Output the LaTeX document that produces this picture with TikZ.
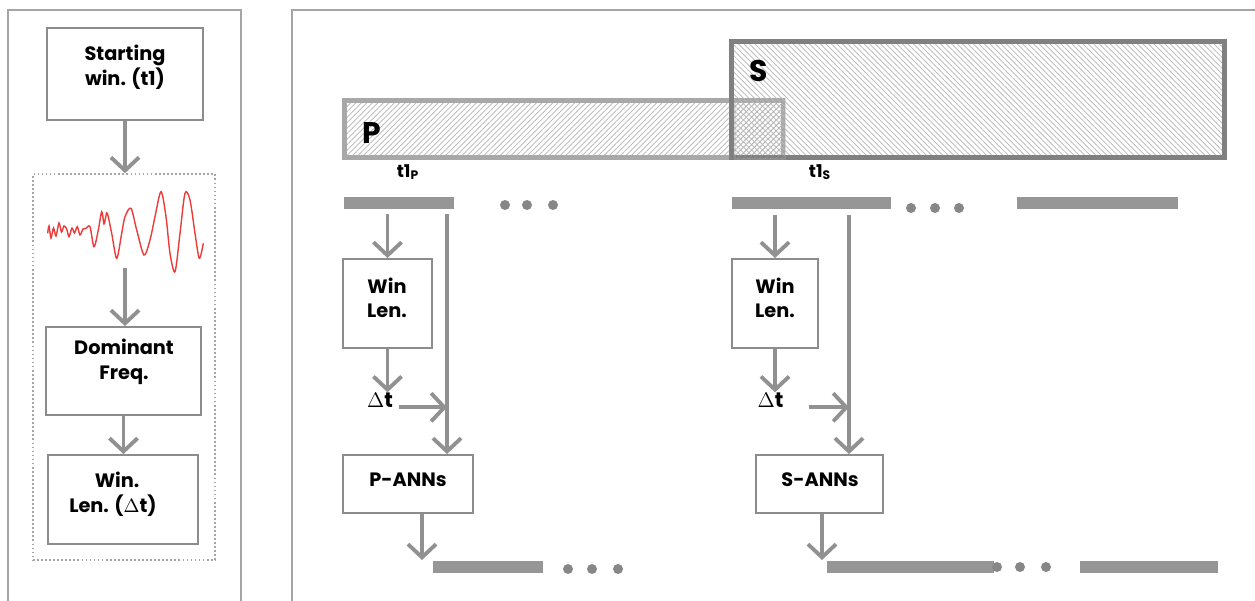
\documentclass[tikz,border=0pt]{standalone}
\usepackage{fontspec}
\setsansfont{Poppins}
\usetikzlibrary{arrows.meta, positioning, patterns.meta, calc}

\definecolor{framegray}{RGB}{165,165,165}
\definecolor{boxgray}{RGB}{140,140,140}
\definecolor{arrgray}{RGB}{145,145,145}
\definecolor{bargray}{RGB}{150,150,150}
\definecolor{dotgray}{RGB}{135,135,135}
\definecolor{pgray}{RGB}{168,168,168}
\definecolor{sgray}{RGB}{128,128,128}
\definecolor{hatchgray}{RGB}{190,190,190}
\definecolor{wavered}{RGB}{235,60,60}

\tikzset{
  box/.style={shape=rectangle, draw=boxgray, line width=1.1pt, inner sep=0pt},
  lbl/.style={font=\sffamily\bfseries\fontsize{11}{14}\selectfont, align=center, inner sep=0pt},
  bar/.style={shape=rectangle, fill=bargray, inner sep=0pt, minimum height=0.24cm},
  dot/.style={shape=circle, fill=dotgray, inner sep=0pt, minimum size=0.2cm},
  arr/.style={draw=arrgray, line width=2.2pt, -{Straight Barb[length=7.5pt,width=16pt]}},
}

\begin{document}
\begin{tikzpicture}[x=0.02cm, y=-0.02cm]
\useasboundingbox (0,0) rectangle (1255,601);

%frames
\draw[framegray, line width=1pt] (8,601) -- (8,10) -- (241,10) -- (241,601);
\draw[framegray, line width=1pt] (292,601) -- (292,10) -- (1255,10);

%left column
\draw (125,74) node [box, minimum width=3.12cm, minimum height=1.84cm] (start) {};
\draw (125,67) node [lbl] (startTxt) {Starting\\win. (t1)};
\draw (124,367) node [box, draw=framegray, line width=1pt, dash pattern=on 1pt off 1.3pt, minimum width=3.64cm, minimum height=7.72cm] (sigbox) {};
\draw[wavered, line width=0.8pt, smooth, tension=0.5] plot coordinates {
  (47.7,233.3) (49,226) (51,238) (53.5,228) (56,236) (59,223) (61.5,232) (64,226) (66.7,229)
  (69,236.7) (72,228) (74.5,233) (77.3,226.7) (80,235) (83,229) (86,228.3) (90,226.7) (94,246.7)
  (98.3,230) (101.7,211.7) (104,224) (105.5,218) (107.3,213.3) (111.7,233.3) (116.7,258.3)
  (121.7,233.3) (125,216.7) (131,208.3) (136.7,230) (144,255) (150,240) (155,216.7)
  (161,191.7) (166,216.7) (170,253.3) (175,271.7) (180,233.3) (185,193.3) (190,200)
  (195,233.3) (199.3,258.3) (203.3,243.3)};
\coordinate (waveEnd) at (125,268);
\draw (123.5,371) node [box, minimum width=3.1cm, minimum height=1.76cm] (dom) {};
\draw (124,362) node [lbl] (domTxt) {Dominant\\Freq.};
\draw (123,499.5) node [box, minimum width=3cm, minimum height=1.78cm] (winlen) {};
\draw (113,494) node [lbl] (winlenTxt) {\ \ Win.\\Len. ({$\Delta$}t)};

\draw[arr] (start.south) -- (start.south |- sigbox.north);
\draw[arr] (waveEnd) -- (waveEnd |- dom.north);
\draw[arr] (dom.south) -- (dom.south |- winlen.north);

%phase windows
\draw[pgray, line width=2.8pt, pattern={Lines[angle=45,distance=2.2pt,line width=0.5pt]}, pattern color=hatchgray] (344.5,100.5) rectangle (783,157.5);
\draw[sgray, line width=2.8pt, pattern={Lines[angle=-45,distance=2.2pt,line width=0.5pt]}, pattern color=hatchgray] (731.5,41.5) rectangle (1224.5,157.5);
\draw[pgray, opacity=0.35, line width=1pt, pattern={Lines[angle=45,distance=2.2pt,line width=0.5pt]}, pattern color=pgray] (735,99) rectangle (785,159);
\draw (372,133) node [lbl, font=\sffamily\bfseries\fontsize{17}{20}\selectfont] (pLbl) {P};
\draw (759,71) node [lbl, font=\sffamily\bfseries\fontsize{17}{20}\selectfont] (sLbl) {S};
\draw (408,172) node [lbl, font=\sffamily\bfseries\fontsize{10}{12}\selectfont] (t1p) {t1\textsubscript{P}};
\draw (820,172) node [lbl, font=\sffamily\bfseries\fontsize{10}{12}\selectfont] (t1s) {t1\textsubscript{S}};

%bars and dots
\draw (399,203) node [bar, minimum width=2.2cm] (barP1) {};
\draw (488,567) node [bar, minimum width=2.2cm] (barP2) {};
\draw (811.5,203.5) node [bar, minimum width=3.18cm] (barS1) {};
\draw (1097.5,203.5) node [bar, minimum width=3.22cm] (barS2) {};
\draw (910.5,567) node [bar, minimum width=3.34cm] (barS3) {};
\draw (1149,567) node [bar, minimum width=2.76cm] (barS4) {};
\foreach \x [count=\i] in {505,527,553} \draw (\x,205) node [dot] (dotP\i) {};
\foreach \x [count=\i] in {911,935,959} \draw (\x,208) node [dot] (dotS\i) {};
\foreach \x [count=\i] in {568,592,618} \draw (\x,569) node [dot] (dotPb\i) {};
\foreach \x [count=\i] in {997,1020,1046} \draw (\x,567) node [dot] (dotSb\i) {};

%P branch
\draw (387.5,303.5) node [box, minimum width=1.78cm, minimum height=1.78cm] (winP) {};
\draw (387,298) node [lbl] (winPTxt) {Win\\Len.};
\draw (380,400) node [lbl, font=\sffamily\bfseries\fontsize{12}{14}\selectfont] (dtP) {{$\Delta$}t};
\draw (408,484) node [box, minimum width=2.6cm, minimum height=1.16cm] (pann) {};
\draw (408,480) node [lbl] (pannTxt) {P-ANNs};
\coordinate (pIn) at (447,215);
\coordinate (pOut) at (422,560);
\draw[arr, shorten <=0.1cm] (barP1.south -| winP.north) -- (winP.north);
\draw[arr, shorten <=0.1cm] (barP1.south -| pIn) -- (pIn |- pann.north);
\draw[arr] (winP.south) -- (winP.south |- dtP.north);
\draw[arr, shorten <=0.12cm] (dtP.base east) -- (dtP.base east -| pIn);
\draw[arr] (pann.south -| pOut) -- (pOut);

%S branch
\draw (775,303.5) node [box, minimum width=1.72cm, minimum height=1.78cm] (winS) {};
\draw (775,298) node [lbl] (winSTxt) {Win\\Len.};
\draw (770.5,400) node [lbl, font=\sffamily\bfseries\fontsize{12}{14}\selectfont] (dtS) {{$\Delta$}t};
\draw (819.5,484) node [box, minimum width=2.54cm, minimum height=1.16cm] (sann) {};
\draw (820,480) node [lbl] (sannTxt) {S-ANNs};
\coordinate (sIn) at (849,215);
\coordinate (sOut) at (822,560);
\draw[arr, shorten <=0.1cm] (barS1.south -| winS.north) -- (winS.north);
\draw[arr, shorten <=0.1cm] (barS1.south -| sIn) -- (sIn |- sann.north);
\draw[arr] (winS.south) -- (winS.south |- dtS.north);
\draw[arr, shorten <=0.5cm] (dtS.base east) -- (dtS.base east -| sIn);
\draw[arr] (sann.south -| sOut) -- (sOut);
\end{tikzpicture}
\end{document}
